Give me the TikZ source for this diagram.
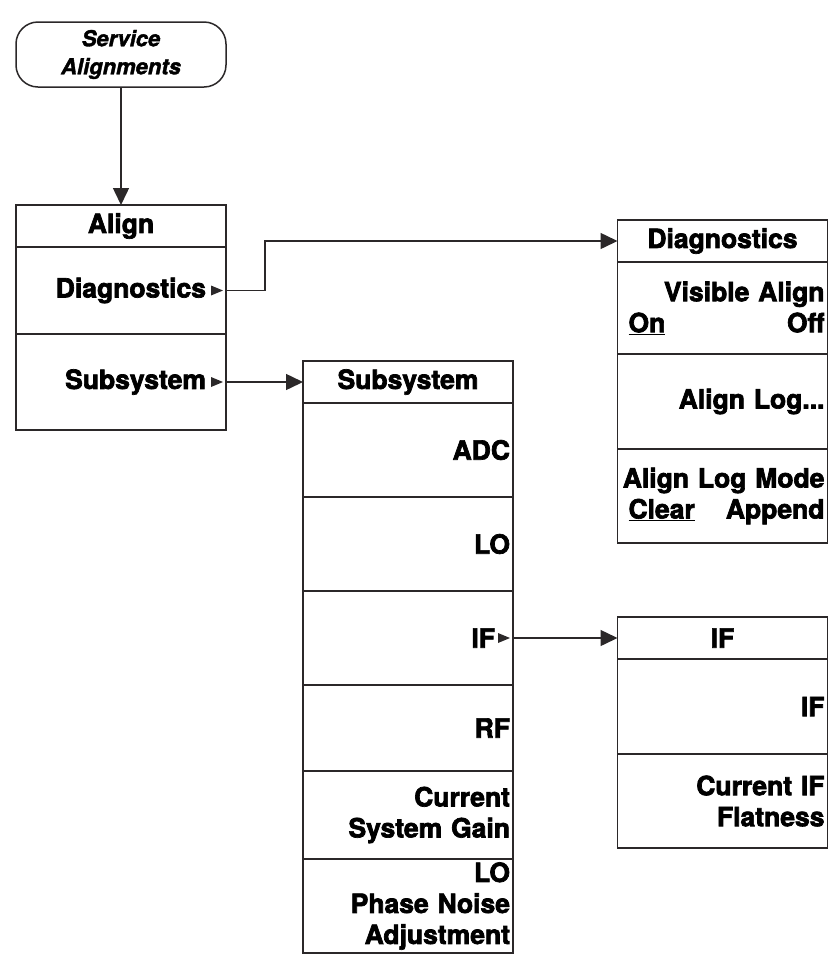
\documentclass[tikz,border=0pt]{standalone}
\usepackage{fontspec}
\setmainfont{TeX Gyre Heros}[BoldFeatures={FakeBold=2.6},BoldItalicFeatures={FakeBold=1.6}]
\usepackage{xcolor}
\usepackage{tikz}
\usetikzlibrary{positioning,arrows.meta}
\definecolor{menuline}{HTML}{2B2829}

\begin{document}
\begin{tikzpicture}[x=1pt, y=-1pt, >={Triangle[length=17pt,width=16pt]},
    line width=1.5pt, color=menuline,
    font=\fontsize{26.5}{31}\selectfont\bfseries,
    menu/.style={draw=menuline, text=black, outer sep=0pt, inner xsep=3pt,
                 inner ysep=0pt, text width=204pt},
    hd/.style={menu, align=center, minimum height=42pt},
    item/.style={menu, align=right},
    sub/.style={item, path picture={\fill[menuline]
        ([xshift=-3pt]path picture bounding box.east) -- ++(-12,-5) -- ++(0,10) -- cycle;}},
    svc/.style={draw=menuline, text=black, rounded corners=22pt, minimum width=210pt,
                minimum height=65pt, align=center, outer sep=0pt,
                font=\fontsize{22}{28}\selectfont\bfseries\itshape},
    conn/.style={->, draw=menuline}]
  \useasboundingbox (0,0) rectangle (833,962);

  \node[svc] (svc) at (121,54.5) {Service\\Alignments};

  % Align menu
  \node[hd] (alHd) at (121,226) {Align};
  \node[sub, minimum height=87pt, below=0pt of alHd] (alDiag) {Diagnostics\kern17pt};
  \node[sub, minimum height=96pt, below=0pt of alDiag] (alSub) {Subsystem\kern17pt};

  % Diagnostics menu
  \node[hd] (dgHd) at (722.5,241) {Diagnostics};
  \node[item, minimum height=92pt, below=0pt of dgHd] (dgVis)
        {Visible Align\\\makebox[\linewidth][s]{\hspace{8pt}\underline{On}\hfill Off}};
  \node[item, minimum height=95pt, below=0pt of dgVis] (dgLog) {Align Log...};
  \node[item, minimum height=94pt, below=0pt of dgLog] (dgMode)
        {Align Log Mode\\\makebox[\linewidth][s]{\hspace{8pt}\underline{Clear}\hfill Append}};

  % Subsystem menu
  \node[hd] (ssHd) at (408,382) {Subsystem};
  \node[item, minimum height=94pt, below=0pt of ssHd] (ssADC) {ADC};
  \node[item, minimum height=94pt, below=0pt of ssADC] (ssLO) {LO};
  \node[sub, minimum height=94pt, below=0pt of ssLO] (ssIF) {IF\kern15pt};
  \node[item, minimum height=86pt, below=0pt of ssIF] (ssRF) {RF};
  \node[item, minimum height=88pt, below=0pt of ssRF] (ssGain) {Current\\System Gain};
  \node[item, minimum height=94pt, below=0pt of ssGain] (ssPN)
        {LO\\Phase Noise\\Adjustment};

  % IF menu
  \node[hd] (ifHd) at (722.5,638) {IF};
  \node[item, minimum height=95pt, below=0pt of ifHd] (ifIF) {IF};
  \node[item, minimum height=94pt, below=0pt of ifIF] (ifFlat) {Current IF\\Flatness};

  \draw[conn] (svc) -- (alHd);
  \draw[conn] (alDiag.east) -- ++(39,0) |- (dgHd.west);
  \draw[conn] (alSub.east) -- (ssHd.west);
  \draw[conn] (ssIF.east) -- (ifHd.west);
\end{tikzpicture}
\end{document}
